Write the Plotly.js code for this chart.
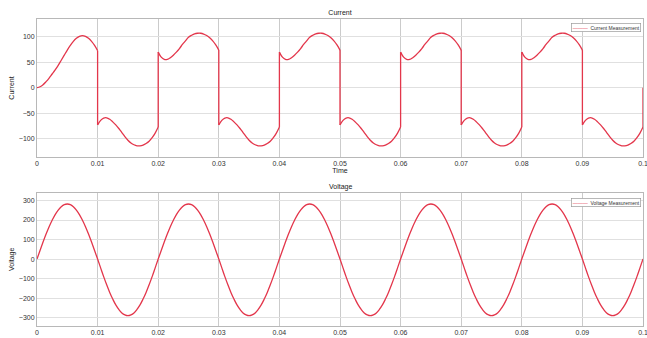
<!DOCTYPE html>
<html>
<head>
<meta charset="utf-8">
<script src="https://cdn.plot.ly/plotly-3.0.1.min.js"></script>
<style>html,body{margin:0;padding:0;background:#fff;}#chart{width:647px;height:338px;}</style>
</head>
<body>
<div id="chart"></div>
<script>
// ---- data ----
const sampleStep = 0.0005;                 // s between samples
const halfCycleStarts = [0, 0.01, 0.02, 0.03, 0.04, 0.05, 0.06, 0.07, 0.08, 0.09];

const currentHalf01 = [0,2,6,12,19,27,35,44,54,64,74,83,91,97,101,102.5,101,97,91,83,73];
const currentHalf02 = [-73,-64,-59.5,-59,-62,-67,-73,-80,-88,-96,-103,-108.5,-112,-114,-114,-112.5,-109.5,-105,-98,-89,-77];
const currentHalf03 = [70,60,55.5,55.5,59,64,70,77,85,92,99,103,106,107,107,105.5,102.5,98,92,84,74];
const currentHalf04 = [-73,-64,-59.5,-59,-62,-67,-73,-80,-88,-96,-103,-108.5,-112,-114,-114,-112.5,-109.5,-105,-98,-89,-77];
const currentHalf05 = [70,60,55.5,55.5,59,64,70,77,85,92,99,103,106,107,107,105.5,102.5,98,92,84,74];
const currentHalf06 = [-73,-64,-59.5,-59,-62,-67,-73,-80,-88,-96,-103,-108.5,-112,-114,-114,-112.5,-109.5,-105,-98,-89,-77];
const currentHalf07 = [70,60,55.5,55.5,59,64,70,77,85,92,99,103,106,107,107,105.5,102.5,98,92,84,74];
const currentHalf08 = [-73,-64,-59.5,-59,-62,-67,-73,-80,-88,-96,-103,-108.5,-112,-114,-114,-112.5,-109.5,-105,-98,-89,-77];
const currentHalf09 = [70,60,55.5,55.5,59,64,70,77,85,92,99,103,106,107,107,105.5,102.5,98,92,84,74];
const currentHalf10 = [-73,-64,-59.5,-59,-62,-67,-73,-80,-88,-96,-103,-108.5,-112,-114,-114,-112.5,-109.5,-105,-98,-89,-77];
const currentEndTime = 0.1;
const currentEndValue = 0;

const voltageValues = [
  0,44,87,128,166,199,228,251,268,279,282,279,268,251,228,199,166,128,87,44,
  0,-45,-90,-132,-171,-205,-235,-258,-276,-286,-290,-286,-276,-258,-235,-205,-171,-132,-90,-45,
  0,44,87,128,166,199,228,251,268,279,282,279,268,251,228,199,166,128,87,44,
  0,-45,-90,-132,-171,-205,-235,-258,-276,-286,-290,-286,-276,-258,-235,-205,-171,-132,-90,-45,
  0,44,87,128,166,199,228,251,268,279,282,279,268,251,228,199,166,128,87,44,
  0,-45,-90,-132,-171,-205,-235,-258,-276,-286,-290,-286,-276,-258,-235,-205,-171,-132,-90,-45,
  0,44,87,128,166,199,228,251,268,279,282,279,268,251,228,199,166,128,87,44,
  0,-45,-90,-132,-171,-205,-235,-258,-276,-286,-290,-286,-276,-258,-235,-205,-171,-132,-90,-45,
  0,44,87,128,166,199,228,251,268,279,282,279,268,251,228,199,166,128,87,44,
  0,-45,-90,-132,-171,-205,-235,-258,-276,-286,-290,-286,-276,-258,-235,-205,-171,-132,-90,-45,
  0
];

const timeTickValues = [0,0.01,0.02,0.03,0.04,0.05,0.06,0.07,0.08,0.09,0.1];
const timeTickLabels = ['0','0.01','0.02','0.03','0.04','0.05','0.06','0.07','0.08','0.09','0.1'];
const currentTickValues = [-100,-50,0,50,100];
const voltageTickValues = [-300,-200,-100,0,100,200,300];

// ---- build traces ----
const lineColor = '#e3364b';
const lineStyle = {color: lineColor, width: 1.3, shape: 'spline', smoothing: 1};
const jumpStyle = {color: lineColor, width: 1.3};

const currentHalves = [currentHalf01,currentHalf02,currentHalf03,currentHalf04,currentHalf05,
                       currentHalf06,currentHalf07,currentHalf08,currentHalf09,currentHalf10];
const traces = [];
currentHalves.forEach((half, k) => {
  // smooth segment of one half-cycle
  traces.push({x0: halfCycleStarts[k], dx: sampleStep, y: half, type: 'scatter', mode: 'lines',
    name: 'Current Measurement', line: lineStyle, xaxis: 'x', yaxis: 'y', hoverinfo: 'skip'});
  // vertical switching edge at the end of this half-cycle
  const endT = halfCycleStarts[k] + (half.length - 1) * sampleStep;
  const hasNext = k + 1 < currentHalves.length;
  traces.push({x: [endT, hasNext ? halfCycleStarts[k + 1] : currentEndTime],
    y: [half[half.length - 1], hasNext ? currentHalves[k + 1][0] : currentEndValue], type: 'scatter', mode: 'lines',
    name: 'Current Measurement', line: jumpStyle, xaxis: 'x', yaxis: 'y', hoverinfo: 'skip'});
});
traces.push({y: voltageValues, x0: 0, dx: sampleStep, type: 'scatter', mode: 'lines',
  name: 'Voltage Measurement', line: lineStyle, xaxis: 'x2', yaxis: 'y2'});

const font = 'Liberation Sans, Arial, sans-serif';
const baseX = {
  range: [0, 0.1], tickvals: timeTickValues, ticktext: timeTickLabels, ticklabeloverflow: 'allow',
  showgrid: true, gridcolor: '#cbcbcb', gridwidth: 1,
  showline: true, mirror: true, linecolor: '#b8b8b8', linewidth: 1,
  zeroline: false, ticks: '', tickfont: {size: 7, color: '#333'}
};
const baseY = {
  showgrid: true, gridcolor: '#e0e0e0', gridwidth: 1,
  showline: true, mirror: true, linecolor: '#b8b8b8', linewidth: 1,
  zeroline: false, ticks: '', tickfont: {size: 7, color: '#333'}
};

const layout = {
  width: 647, height: 338,
  margin: {l: 37, r: 4, t: 19, b: 12},
  paper_bgcolor: '#fff', plot_bgcolor: '#fff',
  font: {family: font, size: 7, color: '#333'},
  showlegend: false,
  title: {text: 'Current', font: {size: 7, color: '#222'}, x: 340/647, xref: 'container', xanchor: 'center',
          y: 1 - 13/338, yref: 'container', yanchor: 'middle'},
  xaxis: Object.assign({}, baseX, {domain: [0, 1], anchor: 'y',
          title: {text: 'Time', font: {size: 7, color: '#222'}, standoff: 1}}),
  yaxis: Object.assign({}, baseY, {domain: [0.5505, 1], anchor: 'x', range: [-136, 135],
          tickvals: currentTickValues,
          title: {text: 'Current', font: {size: 7, color: '#222'}, standoff: 3}}),
  xaxis2: Object.assign({}, baseX, {domain: [0, 1], anchor: 'y2'}),
  yaxis2: Object.assign({}, baseY, {domain: [0, 0.4342], anchor: 'x2', range: [-343, 340],
          tickvals: voltageTickValues,
          title: {text: 'Voltage', font: {size: 7, color: '#222'}, standoff: 3}}),
  annotations: [
    {text: 'Voltage', xref: 'paper', yref: 'paper', x: 0.5, y: (326 - 187) / 307,
     xanchor: 'center', yanchor: 'middle', showarrow: false, font: {size: 7, color: '#222'}},
    {text: '<span style="color:' + lineColor + '">———</span>  Current Measurement',
     xref: 'paper', yref: 'paper', x: 0.9967, y: (326 - 23) / 307, xanchor: 'right', yanchor: 'top',
     showarrow: false, font: {size: 5, color: '#333'}, bgcolor: '#fff', bordercolor: '#9a9a9a',
     borderwidth: 0.7, borderpad: 1},
    {text: '<span style="color:' + lineColor + '">———</span>  Voltage Measurement',
     xref: 'paper', yref: 'paper', x: 0.9967, y: (326 - 197.5) / 307, xanchor: 'right', yanchor: 'top',
     showarrow: false, font: {size: 5, color: '#333'}, bgcolor: '#fff', bordercolor: '#9a9a9a',
     borderwidth: 0.7, borderpad: 1}
  ]
};

Plotly.newPlot('chart', traces, layout, {displayModeBar: false, staticPlot: true});
</script>
</body>
</html>
